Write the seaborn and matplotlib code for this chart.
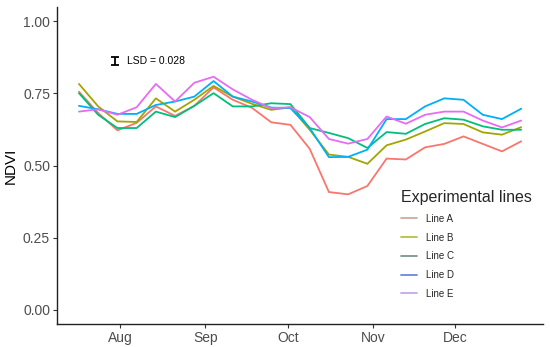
import numpy as np
import pandas as pd
import matplotlib
matplotlib.use("Agg")
import matplotlib.pyplot as plt
import matplotlib.dates as mdates
from matplotlib.lines import Line2D
import seaborn as sns

# ── Data ───────────────────────────────────────────────
dates = pd.date_range("2018-07-17", periods=24, freq="7D")

line_a = [0.756, 0.682, 0.622, 0.648, 0.705, 0.672, 0.707, 0.771, 0.728, 0.700,
          0.650, 0.641, 0.558, 0.408, 0.400, 0.429, 0.524, 0.521, 0.563, 0.575,
          0.601, 0.575, 0.549, 0.584]
line_b = [0.783, 0.705, 0.653, 0.651, 0.733, 0.687, 0.728, 0.776, 0.739, 0.714,
          0.693, 0.702, 0.624, 0.538, 0.530, 0.506, 0.570, 0.590, 0.618, 0.647,
          0.644, 0.615, 0.607, 0.633]
line_c = [0.751, 0.676, 0.630, 0.630, 0.687, 0.668, 0.707, 0.751, 0.705, 0.705,
          0.716, 0.713, 0.630, 0.613, 0.595, 0.561, 0.616, 0.610, 0.644, 0.664,
          0.659, 0.636, 0.624, 0.624]
line_d = [0.707, 0.695, 0.679, 0.679, 0.710, 0.722, 0.739, 0.793, 0.739, 0.722,
          0.701, 0.699, 0.630, 0.529, 0.530, 0.555, 0.661, 0.661, 0.705, 0.733,
          0.728, 0.676, 0.661, 0.697]
line_e = [0.687, 0.695, 0.676, 0.702, 0.783, 0.722, 0.787, 0.808, 0.764, 0.728,
          0.699, 0.702, 0.668, 0.592, 0.576, 0.592, 0.670, 0.645, 0.676, 0.687,
          0.687, 0.656, 0.632, 0.656]

line_names = ["Line A", "Line B", "Line C", "Line D", "Line E"]
line_colors = ["#F8766D", "#A3A500", "#00BF7D", "#00B0F6", "#E76BF3"]
# legend keys look washed out in the reference
legend_colors = ["#CDAE98", "#B4C23A", "#7E9688", "#6A86E0", "#C4A6F0"]

lsd_date = pd.Timestamp("2018-07-30")
lsd_value = 0.028
lsd_center = 0.862

df = pd.DataFrame({
    "date": np.tile(dates, 5),
    "NDVI": line_a + line_b + line_c + line_d + line_e,
    "line": np.repeat(line_names, len(dates)),
})

# ── Style ──────────────────────────────────────────────
sns.set_theme(style="ticks")
plt.rcParams["font.family"] = ["Liberation Sans", "DejaVu Sans"]

fig = plt.figure(figsize=(5.5, 3.47), dpi=100)
ax = fig.add_axes([0.1036, 0.066, 0.884, 0.914])

sns.lineplot(data=df, x="date", y="NDVI", hue="line", hue_order=line_names,
             palette=line_colors, linewidth=1.3, ax=ax, legend=False)

# LSD bar
ax.errorbar([lsd_date], [lsd_center], yerr=lsd_value / 2, color="black",
            capsize=3, elinewidth=1.3, capthick=1.3)
ax.text(lsd_date + pd.Timedelta(days=4.5), lsd_center, f"LSD = {lsd_value}",
        va="center", ha="left", fontsize=7.5, color="black")

ax.set_ylim(-0.05, 1.05)
ax.set_yticks([0, 0.25, 0.5, 0.75, 1.0])
ax.set_yticklabels(["0.00", "0.25", "0.50", "0.75", "1.00"])
pad = pd.Timedelta(days=8)
ax.set_xlim(dates[0] - pad, dates[-1] + pad)
ax.xaxis.set_major_locator(mdates.MonthLocator(bymonth=[8, 9, 10, 11, 12]))
ax.xaxis.set_major_formatter(mdates.DateFormatter("%b"))

ax.set_xlabel("")
ax.set_ylabel("NDVI", fontsize=11, color="black", labelpad=4)
ax.tick_params(axis="both", labelsize=10, labelcolor="#4D4D4D", color="#333333",
               length=3, width=0.8, pad=2)
for s in ["left", "bottom"]:
    ax.spines[s].set_color("#222222")
    ax.spines[s].set_linewidth(1.0)
sns.despine(ax=ax)

handles = [Line2D([], [], color=c, linewidth=1.3) for c in legend_colors]
leg = ax.legend(handles, line_names, title="Experimental lines", frameon=False,
                loc="upper left", bbox_to_anchor=(0.69, 0.45), fontsize=7,
                title_fontsize=11.5, handlelength=1.6, handletextpad=1.0,
                labelspacing=0.9, alignment="left")

fig.savefig("out.png", dpi=100)
